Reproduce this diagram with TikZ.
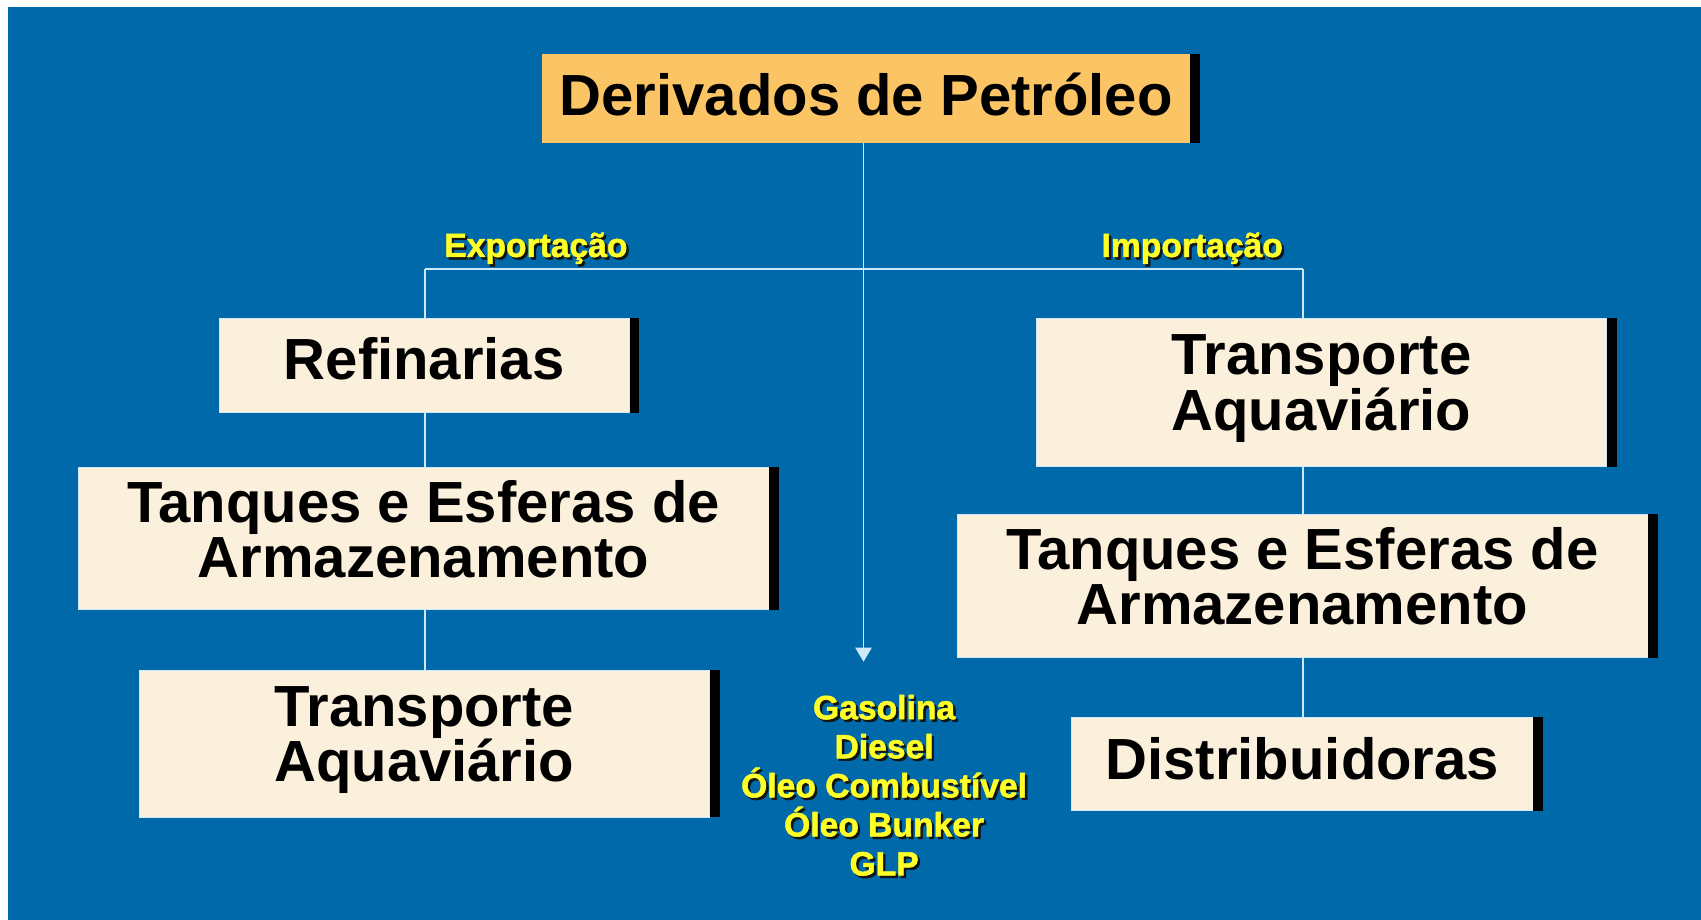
\documentclass[tikz,border=0pt]{standalone}
\usepackage{fontspec}
\setmainfont{Liberation Sans}
\newfontfamily\yelfont[BoldFeatures={FakeBold=1.6}]{Liberation Sans}
\usetikzlibrary{arrows.meta}
\definecolor{bgblue}{RGB}{0,105,170}
\definecolor{orangebox}{RGB}{251,197,102}
\definecolor{creambox}{RGB}{251,240,219}
\definecolor{linec}{RGB}{205,232,250}
\definecolor{yel}{RGB}{255,255,40}
\definecolor{shad}{RGB}{20,20,20}
\newcommand\shtxt[1]{\leavevmode\rlap{\kern2.2pt\raisebox{-2.2pt}{\color{shad}#1}}#1}
\newcommand\dstrut[1]{\rule[-#1]{0pt}{#1}}
\tikzset{
  boxbase/.style={rectangle, inner sep=0pt, align=center, text=black,
    font={\fontsize{53.5}{51}\selectfont\bfseries}},
  creamb/.style={boxbase, fill=creambox, draw=linec, line width=0.6pt},
  orangeb/.style={boxbase, fill=orangebox},
  conn/.style={draw=linec, line width=1.7pt},
  lbl/.style={text=yel, align=center, inner sep=0pt,
    font={\yelfont\fontsize{31}{36}\selectfont\bfseries}},
}
\newcommand\sidebar[1]{\fill[black] (#1.north east) rectangle ([xshift=9pt]#1.south east);}
\begin{document}
\begin{tikzpicture}[x=1pt,y=-1pt]
\useasboundingbox (0,0) rectangle (1568,848);
\fill[white] (0,0) rectangle (1568,848);
\fill[bgblue] (7.5,6.5) rectangle (1568,848);

% boxes
\node[orangeb, minimum width=597pt, minimum height=82pt] (top) at (798.5,91) {Derivados de Petróleo\dstrut{8pt}};
\node[creamb, minimum width=378pt, minimum height=87pt] (ref) at (391,336.5) {Refinarias\dstrut{12pt}};
\node[creamb, minimum width=637pt, minimum height=131pt] (tanL) at (390.5,496.5) {Tanques e Esferas de\\Armazenamento\dstrut{18pt}};
\node[creamb, minimum width=526pt, minimum height=135pt] (trL) at (391,685.5) {Transporte\\Aquaviário\dstrut{18pt}};
\node[creamb, minimum width=526pt, minimum height=137pt] (trR) at (1218,361.5) {Transporte\\Aquaviário\dstrut{18pt}};
\node[creamb, minimum width=637pt, minimum height=132pt] (tanR) at (1200.5,540) {Tanques e Esferas de\\Armazenamento\dstrut{18pt}};
\node[creamb, minimum width=425pt, minimum height=86pt] (dist) at (1200.5,704) {Distribuidoras\dstrut{10pt}};

\sidebar{top}
\sidebar{ref}
\sidebar{tanL}
\sidebar{trL}
\sidebar{trR}
\sidebar{tanR}
\sidebar{dist}

% labels
\node[lbl] (exp) at (494,230) {\shtxt{Exportação}};
\node[lbl] (imp) at (1099,230) {\shtxt{Importação}};
\node[lbl] (prod) at (815,725) {\shtxt{Gasolina}\\\shtxt{Diesel}\\\shtxt{Óleo Combustível}\\\shtxt{Óleo Bunker}\\\shtxt{GLP}};

% connectors
\coordinate (jl) at (392,248);
\coordinate (jr) at (1201,248);
\coordinate (aend) at (796,610);
\draw[conn] (jl) -- (jr);
\draw[conn] (jl) -- (jl |- ref.north);
\draw[conn] (ref.south -| jl) -- (jl |- tanL.north);
\draw[conn] (tanL.south -| jl) -- (jl |- trL.north);
\draw[conn] (jr) -- (jr |- trR.north);
\draw[conn] (trR.south -| jr) -- (jr |- tanR.north);
\draw[conn] (tanR.south -| jr) -- (jr |- dist.north);
\draw[conn, -{Triangle[width=15pt,length=13pt]}, linec] (top.south -| aend) -- (aend);
\end{tikzpicture}
\end{document}
